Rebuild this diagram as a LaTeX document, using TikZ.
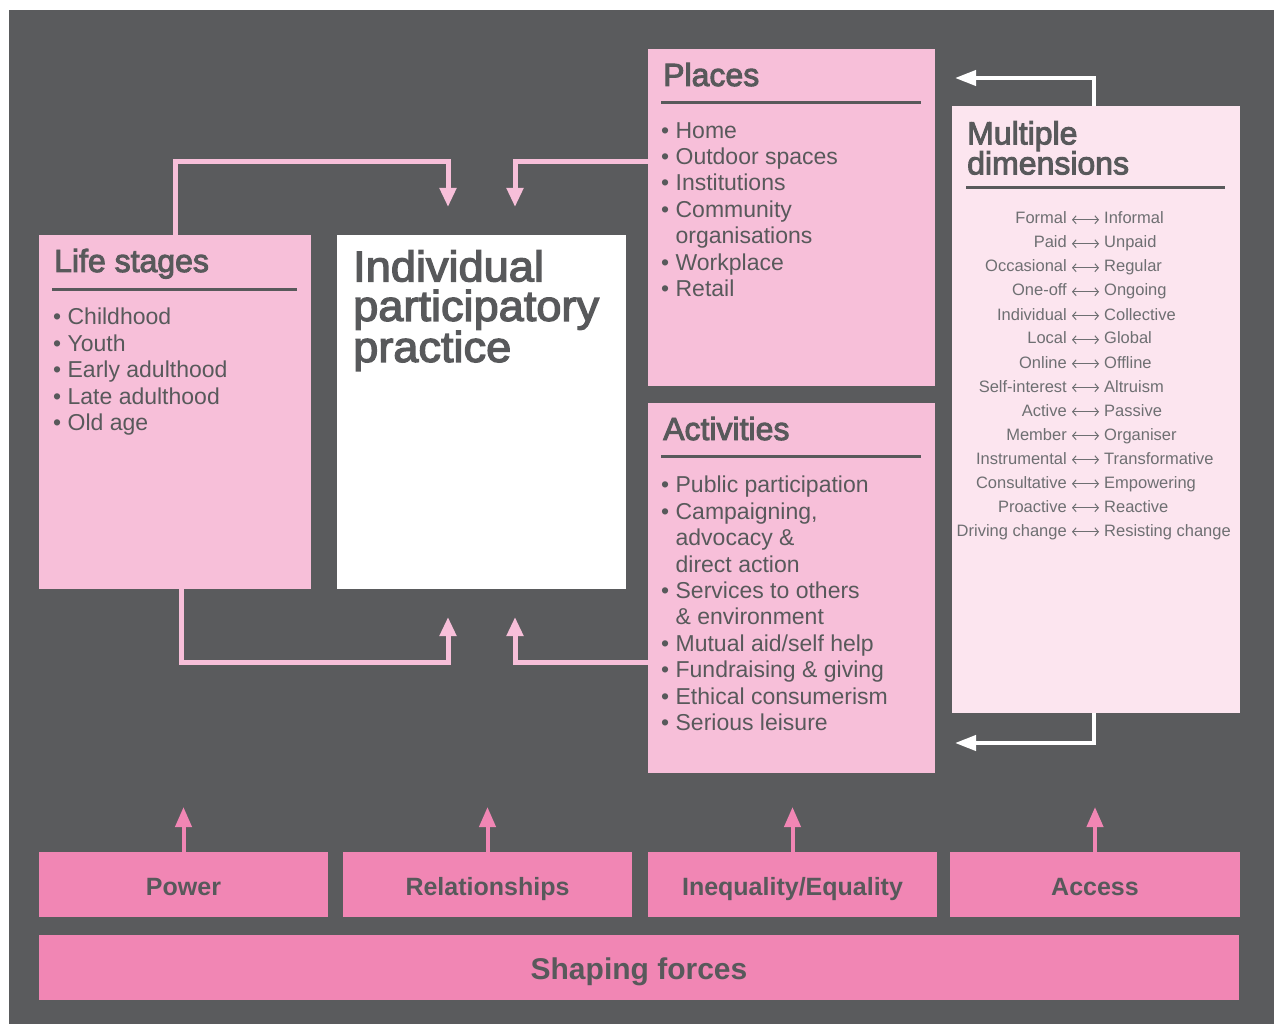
\documentclass[tikz,border=0pt]{standalone}
\usepackage{fontspec}
\setmainfont{Liberation Sans}
\newfontfamily\headfont[FakeBold=3]{Liberation Sans}
\newfontfamily\titlefont[FakeBold=3, FakeStretch=1.05]{Liberation Sans}
\usetikzlibrary{arrows.meta}

\definecolor{bggray}{HTML}{5A5B5D}
\definecolor{txtgray}{HTML}{58595B}
\definecolor{dimgray}{HTML}{6E6F72}
\definecolor{lightpink}{HTML}{F7BFD9}
\definecolor{palepink}{HTML}{FCE5EF}
\definecolor{hotpink}{HTML}{F186B4}

\tikzset{
	box/.style={rectangle, fill=lightpink, anchor=north west, inner sep=0pt, outer sep=0pt},
	force/.style={box, fill=hotpink, minimum height=65pt, text=txtgray, text height=21pt, text depth=0pt, font=\bfseries\fontsize{25}{25}\selectfont},
	head/.style={anchor=base west, inner sep=0pt, text=txtgray, font=\headfont\fontsize{32}{30}\selectfont, align=left},
	items/.style={anchor=north west, inner sep=0pt, text=txtgray, font=\fontsize{23}{26.4}\selectfont, align=left},
	rule/.style={draw=txtgray, line width=3pt},
	link/.style={draw=lightpink, line width=5pt, -{Triangle[width=16pt,length=19pt]}},
	back/.style={draw=white, line width=4pt, -{Triangle[width=15pt,length=21pt]}},
	push/.style={draw=hotpink, line width=4pt, -{Triangle[width=16pt,length=20pt]}},
	dimtxt/.style={inner sep=0pt, text=dimgray, font=\fontsize{16.5}{16.5}\selectfont, text height=12pt, text depth=3.5pt},
	dimarrow/.style={draw=dimgray, line width=1pt, {Straight Barb[length=3.5pt,width=8pt]}-{Straight Barb[length=3.5pt,width=8pt]}, shorten >=5pt, shorten <=5pt}
}

\begin{document}
\begin{tikzpicture}[x=1pt, y=-1pt]
	\useasboundingbox (0,0) rectangle (1277,1024);
	\fill[white] (0,0) rectangle (1277,1024);
	\fill[bggray] (9,10) rectangle (1274,1024);

	% 箱を置く
	\node[box, minimum width=272pt, minimum height=354pt] (life) at (39,235) {};
	\node[box, fill=white, minimum width=289pt, minimum height=354pt] (ipp) at (337,235) {};
	\node[box, minimum width=287pt, minimum height=337pt] (places) at (648,49) {};
	\node[box, minimum width=287pt, minimum height=370pt] (acts) at (648,403) {};
	\node[box, fill=palepink, minimum width=288pt, minimum height=607pt] (dims) at (952,106) {};

	% 見出し
	\node[head] (lifehead) at (54,272) {Life stages};
	\draw[rule] (52,290) -- (297,290);
	\node[head] (placeshead) at (663,86) {Places};
	\draw[rule] (661,103) -- (921,103);
	\node[head] (actshead) at (663,440) {Activities};
	\draw[rule] (661,456) -- (921,456);
	\node[head, anchor=north west] (dimshead) at (967,121) {Multiple\\dimensions};
	\draw[rule] (966,188) -- (1225,188);
	\node[head, anchor=north west, font=\titlefont\fontsize{43}{39.5}\selectfont] (ipphead) at (353,250) {Individual\\participatory\\practice};

	% リスト
	\node[items] (lifelist) at (53,308) {\textbullet\ Childhood\\\textbullet\ Youth\\\textbullet\ Early adulthood\\\textbullet\ Late adulthood\\\textbullet\ Old age};
	\node[items] (placeslist) at (661,122) {\textbullet\ Home\\\textbullet\ Outdoor spaces\\\textbullet\ Institutions\\\textbullet\ Community\\\hphantom{\textbullet\ }organisations\\\textbullet\ Workplace\\\textbullet\ Retail};
	\node[items] (actslist) at (661,476) {\textbullet\ Public participation\\\textbullet\ Campaigning,\\\hphantom{\textbullet\ }advocacy \&\\\hphantom{\textbullet\ }direct action\\\textbullet\ Services to others\\\hphantom{\textbullet\ }\& environment\\\textbullet\ Mutual aid/self help\\\textbullet\ Fundraising \& giving\\\textbullet\ Ethical consumerism\\\textbullet\ Serious leisure};

	% 次元の対
	\foreach \a/\b [count=\i from 0] in {Formal/Informal, Paid/Unpaid, Occasional/Regular, One-off/Ongoing, Individual/Collective, Local/Global, Online/Offline, Self-interest/Altruism, Active/Passive, Member/Organiser, Instrumental/Transformative, Consultative/Empowering, Proactive/Reactive, Driving change/Resisting change}{
		\node[dimtxt, anchor=base east] (dl\i) at (1067,224+24*\i) {\a};
		\node[dimtxt, anchor=base west] (dr\i) at (1104,224+24*\i) {\b};
		\draw[dimarrow] (dl\i) -- (dr\i);
	}

	% 下の力
	\node[force, minimum width=289pt] (power) at (39,852) {Power};
	\node[force, minimum width=289pt] (rel) at (343,852) {Relationships};
	\node[force, minimum width=289pt] (ineq) at (648,852) {Inequality/Equality};
	\node[force, minimum width=290pt] (access) at (950,852) {Access};
	\node[force, minimum width=1200pt, text height=24pt, font=\bfseries\fontsize{30}{30}\selectfont] (shaping) at (39,935) {Shaping forces};

	% 矢印の端
	\coordinate (intop1) at (448,207);
	\coordinate (intop2) at (515,207);
	\coordinate (inbot1) at (448,617);
	\coordinate (inbot2) at (515,617);
	\coordinate (bendtop) at (0,162);
	\coordinate (bendbot) at (0,662);
	\coordinate (backtop) at (955,78);
	\coordinate (backbot) at (955,743);

	% 線を引く
	\draw[link] (life.north) |- (bendtop -| intop1) -- (intop1);
	\draw[link] (places.west |- bendtop) -| (intop2);
	\draw[link] ([xshift=6pt]life.south) |- (bendbot -| inbot1) -- (inbot1);
	\draw[link] (acts.west |- bendbot) -| (inbot2);
	\draw[back] ([xshift=-2pt]dims.north) |- (backtop);
	\draw[back] ([xshift=-2pt]dims.south) |- (backbot);

	\draw[push] (power.north) -- ++(0,-45);
	\draw[push] (rel.north) -- ++(0,-45);
	\draw[push] (ineq.north) -- ++(0,-45);
	\draw[push] (access.north) -- ++(0,-45);
\end{tikzpicture}
\end{document}
